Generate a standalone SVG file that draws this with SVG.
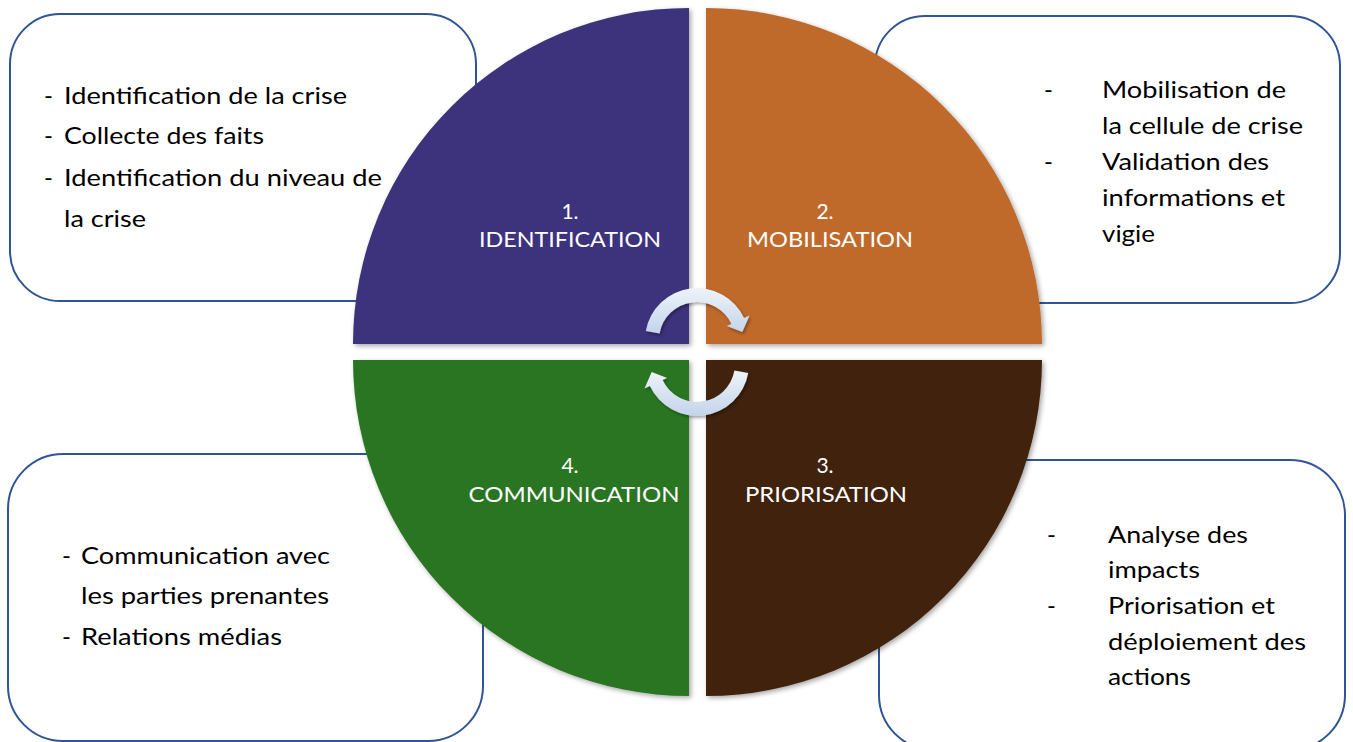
<svg xmlns="http://www.w3.org/2000/svg" width="1353" height="742" viewBox="0 0 1353 742">
  <defs>
    <style>
      .box { fill: #FFFFFF; stroke: #2F5597; stroke-width: 2; }
      .body { font-family: Lato, "Open Sans", "Liberation Sans", sans-serif; font-size: 24px; fill: #000000; }
      .phase { font-family: Lato, "Open Sans", "Liberation Sans", sans-serif; font-size: 21px; fill: #FFFFFF; text-anchor: middle; }
      .arrow { fill: url(#arrowFill); filter: url(#arrowShadow); }
      .quad { filter: url(#quadShadow); }
    </style>
    <filter id="quadShadow" x="-10%" y="-10%" width="120%" height="120%">
      <feDropShadow dx="2" dy="2" stdDeviation="2.5" flood-color="#000000" flood-opacity="0.35"/>
    </filter>
    <filter id="arrowShadow" x="-20%" y="-20%" width="140%" height="140%">
      <feDropShadow dx="1.5" dy="2" stdDeviation="1.5" flood-color="#000000" flood-opacity="0.35"/>
    </filter>
    <linearGradient id="arrowFill" x1="0" y1="0" x2="0" y2="1">
      <stop offset="0" stop-color="#EEF3FA"/>
      <stop offset="1" stop-color="#C3D4EA"/>
    </linearGradient>
  </defs>

  <!-- Text panels -->
  <g id="panel-identification">
    <rect class="box" x="10" y="14" width="466" height="287" rx="50" ry="50"/>
    <text class="body" x="44" y="104">-</text>
    <text class="body" x="64" y="104" textLength="283" lengthAdjust="spacingAndGlyphs">Identification de la crise</text>
    <text class="body" x="44" y="144">-</text>
    <text class="body" x="64" y="144" textLength="200" lengthAdjust="spacingAndGlyphs">Collecte des faits</text>
    <text class="body" x="44" y="186">-</text>
    <text class="body" x="64" y="186" textLength="318" lengthAdjust="spacingAndGlyphs">Identification du niveau de</text>
    <text class="body" x="64" y="227" textLength="82" lengthAdjust="spacingAndGlyphs">la crise</text>
  </g>

  <g id="panel-mobilisation">
    <rect class="box" x="875" y="16" width="465" height="287" rx="50" ry="50"/>
    <text class="body" x="1044" y="98">-</text>
    <text class="body" x="1102" y="98" textLength="184" lengthAdjust="spacingAndGlyphs">Mobilisation de</text>
    <text class="body" x="1102" y="134" textLength="201" lengthAdjust="spacingAndGlyphs">la cellule de crise</text>
    <text class="body" x="1044" y="170">-</text>
    <text class="body" x="1102" y="170" textLength="167" lengthAdjust="spacingAndGlyphs">Validation des</text>
    <text class="body" x="1102" y="206" textLength="183" lengthAdjust="spacingAndGlyphs">informations et</text>
    <text class="body" x="1102" y="242" textLength="53" lengthAdjust="spacingAndGlyphs">vigie</text>
  </g>

  <g id="panel-communication">
    <rect class="box" x="8" y="454" width="475" height="287" rx="55" ry="55"/>
    <text class="body" x="62" y="564">-</text>
    <text class="body" x="81" y="564" textLength="249" lengthAdjust="spacingAndGlyphs">Communication avec</text>
    <text class="body" x="81" y="604" textLength="248" lengthAdjust="spacingAndGlyphs">les parties prenantes</text>
    <text class="body" x="62" y="645">-</text>
    <text class="body" x="81" y="645" textLength="201" lengthAdjust="spacingAndGlyphs">Relations médias</text>
  </g>

  <g id="panel-priorisation">
    <rect class="box" x="879" y="460" width="466" height="290" rx="55" ry="55"/>
    <text class="body" x="1047" y="543">-</text>
    <text class="body" x="1108" y="543" textLength="140" lengthAdjust="spacingAndGlyphs">Analyse des</text>
    <text class="body" x="1108" y="578" textLength="92" lengthAdjust="spacingAndGlyphs">impacts</text>
    <text class="body" x="1047" y="614">-</text>
    <text class="body" x="1108" y="614" textLength="167" lengthAdjust="spacingAndGlyphs">Priorisation et</text>
    <text class="body" x="1108" y="650" textLength="198" lengthAdjust="spacingAndGlyphs">déploiement des</text>
    <text class="body" x="1108" y="685" textLength="83" lengthAdjust="spacingAndGlyphs">actions</text>
  </g>

  <!-- Cycle quadrants -->
  <g id="phase-1">
    <path class="quad" d="M689 344 L353 344 A336 336 0 0 1 689 8 Z" fill="#3D317C"/>
    <text class="phase" x="570" y="219">1.</text>
    <text class="phase" x="570" y="247" textLength="182" lengthAdjust="spacingAndGlyphs">IDENTIFICATION</text>
  </g>
  <g id="phase-2">
    <path class="quad" d="M706 344 L706 8 A336 336 0 0 1 1042 344 Z" fill="#BF692C"/>
    <text class="phase" x="825" y="219">2.</text>
    <text class="phase" x="830" y="247" textLength="166" lengthAdjust="spacingAndGlyphs">MOBILISATION</text>
  </g>
  <g id="phase-3">
    <path class="quad" d="M706 360 L1042 360 A336 336 0 0 1 706 696 Z" fill="#41230F"/>
    <text class="phase" x="825" y="473">3.</text>
    <text class="phase" x="826" y="502" textLength="162" lengthAdjust="spacingAndGlyphs">PRIORISATION</text>
  </g>
  <g id="phase-4">
    <path class="quad" d="M689 360 L689 696 A336 336 0 0 1 353 360 Z" fill="#2A7424"/>
    <text class="phase" x="570" y="473">4.</text>
    <text class="phase" x="574" y="502" textLength="211" lengthAdjust="spacingAndGlyphs">COMMUNICATION</text>
  </g>

  <!-- Circular cycle arrows -->
  <g id="connectors">
    <path class="arrow" d="M645.8 331 A52 52 0 0 1 744.1 318 L749.5 315.5 L742.3 332 L726.9 326.1 L731.4 323.9 A38 38 0 0 0 659.6 333.4 Z"/>
    <path class="arrow" d="M748.2 373 A52 52 0 0 1 649.9 386 L644.5 388.5 L651.7 372 L667.1 377.9 L662.6 380.1 A38 38 0 0 0 734.4 370.6 Z"/>
  </g>
</svg>
